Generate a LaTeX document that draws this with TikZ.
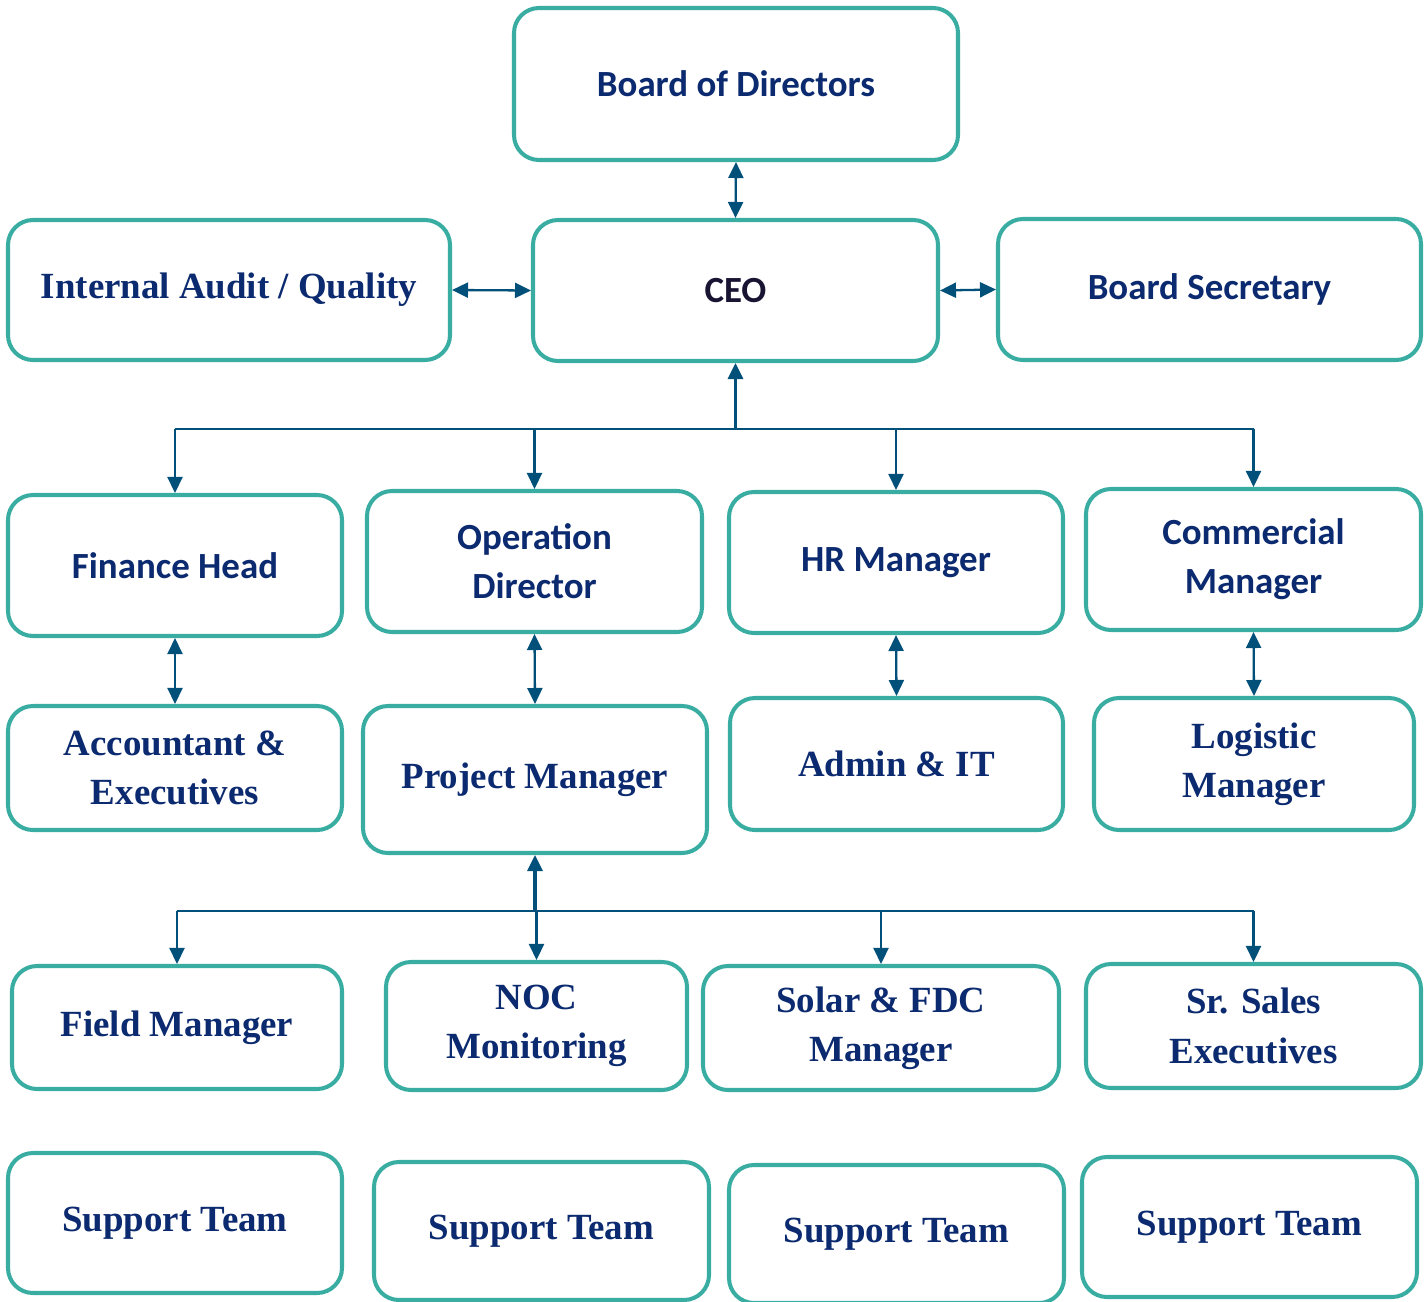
\documentclass[tikz,border=0pt]{standalone}
\usepackage{fontspec}
\setmainfont{Liberation Serif}
\newfontfamily\calfont{Carlito}
\usepackage{tikz}
\usetikzlibrary{calc,arrows.meta}
\definecolor{rim}{HTML}{3AADA2}
\definecolor{link}{HTML}{01507A}
\definecolor{ink}{HTML}{0B2A6F}
\definecolor{inkdark}{HTML}{1A1433}
\tikzset{
  box/.style 2 args={draw=rim, line width=2.3pt, rounded corners=0.5cm, fill=white,
    minimum width=#1cm, minimum height=#2cm, align=center, text=ink, inner sep=0pt},
  sans/.style={font=\calfont\bfseries\fontsize{21}{28}\selectfont},
  serif/.style={font=\bfseries\fontsize{21}{28}\selectfont},
  tip/.tip={Triangle[length=0.32cm,width=0.3cm]},
  both/.style={draw=link, line width=1.3pt, tip-tip},
  down/.style={draw=link, line width=1.3pt, -tip},
  up/.style={draw=link, line width=1.8pt, tip-},
  bus/.style={draw=link, line width=1.3pt},
}
\begin{document}
\begin{tikzpicture}
  \useasboundingbox (0,0) rectangle (28.52,-26.04);
  % top rows
  \node[box={8.88}{3.04}, sans] (bod) at (14.72,-1.68) {Board of Directors};
  \node[box={8.84}{2.80}, serif] (audit) at (4.58,-5.80) {Internal Audit / Quality};
  \node[box={8.10}{2.82}, sans, text=inkdark] (ceo) at (14.71,-5.81) {CEO};
  \node[box={8.46}{2.82}, sans] (sec) at (24.19,-5.79) {Board Secretary};
  % heads
  \node[box={6.68}{2.82}, sans] (fin) at (3.50,-11.31) {Finance Head};
  \node[box={6.70}{2.82}, sans] (ops) at (10.69,-11.23) {Operation\\Director};
  \node[box={6.68}{2.82}, sans] (hr) at (17.92,-11.25) {HR Manager};
  \node[box={6.70}{2.82}, sans] (com) at (25.07,-11.19) {Commercial\\Manager};
  % second level
  \node[box={6.68}{2.48}, serif] (acc) at (3.50,-15.36) {Accountant \&\\Executives};
  \node[box={6.88}{2.94}, serif] (pm) at (10.70,-15.59) {Project Manager};
  \node[box={6.66}{2.64}, serif] (adm) at (17.93,-15.28) {Admin \& IT};
  \node[box={6.40}{2.64}, serif] (log) at (25.08,-15.28) {Logistic\\Manager};
  % under project manager
  \node[box={6.60}{2.46}, serif] (fld) at (3.54,-20.55) {Field Manager};
  \node[box={6.02}{2.56}, serif] (noc) at (10.73,-20.52) {NOC\\Monitoring};
  \node[box={7.12}{2.48}, serif] (sol) at (17.62,-20.56) {Solar \& FDC\\Manager};
  \node[box={6.70}{2.48}, serif] (sal) at (25.07,-20.52) {Sr. Sales\\Executives};
  % support teams
  \node[box={6.68}{2.80}, serif] (sp1) at (3.50,-24.46) {Support Team};
  \node[box={6.70}{2.76}, serif] (sp2) at (10.83,-24.62) {Support Team};
  \node[box={6.70}{2.76}, serif] (sp3) at (17.93,-24.68) {Support Team};
  \node[box={6.70}{2.80}, serif] (sp4) at (24.99,-24.54) {Support Team};

  % links
  \draw[both] (bod.south) -- (ceo.north);
  \draw[both] (audit.east) -- (ceo.west);
  \draw[both] (ceo.east) -- (sec.west);
  \coordinate (hub) at ($(ceo.south)+(0,-1.32)$);
  \draw[up] (ceo.south) -- (hub);
  \draw[bus] (fin |- hub) -- (com |- hub);
  \foreach \n in {fin,ops,hr,com}
    \draw[down] (\n |- hub) -- (\n.north);
  \foreach \a/\b in {fin/acc,ops/pm,hr/adm,com/log}
    \draw[both] (\a.south) -- (\b.north);
  \coordinate (hub2) at ($(pm.south)+(0,-1.12)$);
  \draw[up] (pm.south) -- (hub2);
  \draw[bus] (fld |- hub2) -- (sal |- hub2);
  \foreach \n in {fld,noc,sol,sal}
    \draw[down] (\n |- hub2) -- (\n.north);
\end{tikzpicture}
\end{document}
